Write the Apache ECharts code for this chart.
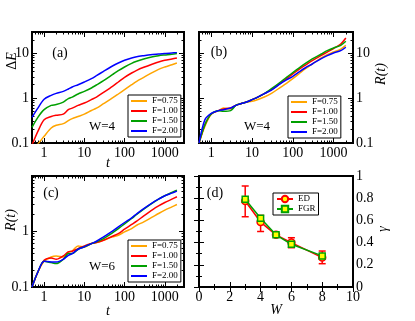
<!DOCTYPE html>
<html>
<head>
<meta charset="utf-8">
<script src="https://cdn.jsdelivr.net/npm/echarts@6/dist/echarts.min.js"></script>
<style>
html,body{margin:0;padding:0;background:#fff;}
#main{width:415px;height:321px;}
</style>
</head>
<body>
<div id="main"></div>
<script>
// time grid shared by panels (a)-(c)
var tGrid = [0.5,0.7,1,1.5,2,3,4,5,7,10,15,20,30,50,70,100,150,200,300,500,700,1000,1500,2000];

// (a) Delta E, W=4
var aF075 = [0.07,0.095,0.141,0.216,0.248,0.27,0.316,0.35,0.39,0.44,0.53,0.60,0.755,1.01,1.24,1.55,2.0,2.38,2.92,3.78,4.41,4.97,5.6,6.1];
var aF100 = [0.09,0.182,0.33,0.39,0.415,0.44,0.555,0.60,0.69,0.78,0.93,1.06,1.35,1.84,2.30,2.92,3.65,4.19,4.89,5.8,6.43,7.0,7.5,7.9];
var aF150 = [0.224,0.374,0.555,0.69,0.72,0.82,0.98,1.06,1.24,1.42,1.69,1.97,2.46,3.35,4.12,4.97,6.0,6.65,7.5,8.45,8.9,9.2,9.5,9.9];
var aF200 = [0.374,0.60,0.95,1.16,1.28,1.42,1.60,1.78,2.0,2.30,2.73,3.18,3.98,5.23,6.1,7.0,7.9,8.45,8.9,9.4,9.7,9.9,10.2,10.6];

// (b) R(t), W=4
var bF075 = [0.1,0.236,0.444,0.527,0.604,0.574,0.693,0.742,0.809,0.851,0.96,1.06,1.28,1.75,2.15,2.73,3.65,4.49,5.8,7.9,9.37,10.7,12.5,15.1];
var bF100 = [0.1,0.257,0.444,0.527,0.574,0.604,0.693,0.742,0.809,0.927,1.10,1.26,1.55,2.18,2.73,3.47,4.56,5.42,6.89,9.06,10.7,12.8,16.2,22.1];
var bF150 = [0.1,0.257,0.444,0.527,0.509,0.527,0.693,0.742,0.809,0.927,1.10,1.26,1.63,2.30,2.92,3.72,4.89,5.9,7.5,9.7,11.5,13.2,15.1,18.6];
var bF200 = [0.1,0.332,0.46,0.527,0.555,0.604,0.693,0.742,0.809,0.927,1.10,1.26,1.52,2.11,2.55,3.08,3.98,4.72,5.8,7.63,8.9,10.2,11.5,13.7];

// (c) R(t), W=6
var cF075 = [0.1,0.185,0.287,0.343,0.358,0.343,0.422,0.44,0.54,0.518,0.594,0.619,0.682,0.782,0.837,0.96,1.10,1.26,1.45,1.78,2.04,2.34,2.68,2.95];
var cF100 = [0.1,0.185,0.30,0.33,0.312,0.358,0.422,0.434,0.484,0.54,0.594,0.619,0.682,0.803,0.896,1.07,1.30,1.49,1.85,2.40,2.79,3.2,3.67,4.05];
var cF150 = [0.1,0.185,0.287,0.272,0.261,0.312,0.394,0.394,0.471,0.518,0.594,0.637,0.73,0.921,1.10,1.33,1.66,1.96,2.44,3.16,3.67,4.22,4.84,5.32];
var cF200 = [0.1,0.185,0.287,0.279,0.279,0.312,0.367,0.394,0.471,0.518,0.594,0.654,0.782,0.986,1.18,1.41,1.71,2.01,2.50,3.2,3.67,4.22,4.71,5.1];

// (d) gamma vs W
var wVals = [3,4,5,6,8];
var gED = [0.775,0.585,0.47,0.40,0.265];
var gEDlo = [0.633,0.50,0.46,0.354,0.21];
var gEDhi = [0.91,0.645,0.48,0.444,0.324];
var gFGR = [0.79,0.62,0.47,0.385,0.28];

var names = ['F=0.75','F=1.00','F=1.50','F=2.00'];
var colors = ['#ffa500','#ff0000','#00a000','#0000ff'];
var FONT = "'Liberation Serif','DejaVu Serif',serif";

function zip(x, y){ return x.map(function(v,i){ return [v, y[i]]; }); }
function logTicks(min,max){
  var out=[];
  for(var e=-2;e<=4;e++) for(var k=1;k<=9;k++){
    var v=parseFloat((k*Math.pow(10,e)).toPrecision(3));
    if(v>=min*0.999 && v<=max*1.001) out.push(v);
  }
  return out;
}
function decades(min,max){
  return logTicks(min,max).filter(function(v){ var l=Math.log10(v); return Math.abs(l-Math.round(l))<1e-9; });
}
function fmt(v){ return String(parseFloat(Number(v).toPrecision(3))); }

function logAxis(grid,pos,min,max,major,labels){
  return {
    type:'log', logBase:10, gridIndex:grid, position:pos, min:min, max:max,
    axisLine:{show:false}, splitLine:{show:false},
    axisTick:{show:true, inside:true, length: major?5:2.5,
      customValues: major?decades(min,max):logTicks(min,max),
      lineStyle:{color:'#000', width:1}},
    axisLabel: labels ? {show:true, customValues:decades(min,max), margin:3, color:'#000',
      fontFamily:FONT, fontSize:14, formatter:fmt} : {show:false}
  };
}

var xAxes=[], yAxes=[];
function logPanel(grid, xr, yr, ySide){
  ['bottom','top'].forEach(function(p){
    xAxes.push(logAxis(grid,p,xr[0],xr[1],true,p==='bottom'));
    xAxes.push(logAxis(grid,p,xr[0],xr[1],false,false));
  });
  ['left','right'].forEach(function(p){
    yAxes.push(logAxis(grid,p,yr[0],yr[1],true,p===ySide));
    yAxes.push(logAxis(grid,p,yr[0],yr[1],false,false));
  });
}
logPanel(0,[0.5,3000],[0.1,30],'left');   // axes 0..3
logPanel(1,[0.5,3000],[0.1,30],'right');  // axes 4..7
logPanel(2,[0.5,3000],[0.1,9.5],'left');  // axes 8..11

function linAxis(grid,pos,min,max,interval,labels){
  return {
    type:'value', gridIndex:grid, position:pos, min:min, max:max, interval:interval,
    axisLine:{show:false}, splitLine:{show:false}, minorSplitLine:{show:false},
    axisTick:{show:true, inside:true, length:5, lineStyle:{color:'#000', width:1}},
    minorTick:{show:true, splitNumber:2, length:3, lineStyle:{color:'#000', width:1}},
    axisLabel: labels ? {show:true, margin:3, color:'#000', fontFamily:FONT, fontSize:14} : {show:false}
  };
}
xAxes.push(linAxis(3,'bottom',0,10,2,true));   // 12
xAxes.push(linAxis(3,'top',0,10,2,false));     // 13
yAxes.push(linAxis(3,'right',0,1,0.2,true));   // 12
yAxes.push(linAxis(3,'left',0,1,0.2,false));   // 13

function gridBox(l,t,w,h){
  return {left:l, top:t, width:w, height:h, show:true, borderColor:'#000', borderWidth:2,
    backgroundColor:'rgba(0,0,0,0)', outerBoundsMode:'none'};
}

var series=[];
function curves(sets, xi){
  sets.forEach(function(d,i){
    series.push({type:'line', name:names[i], xAxisIndex:xi, yAxisIndex:xi,
      data:zip(tGrid,d), symbol:'none', smooth:0.3, clip:true,
      lineStyle:{color:colors[i], width:1.5}, itemStyle:{color:colors[i]}, z:2});
  });
}
curves([aF075,aF100,aF150,aF200],0);
curves([bF075,bF100,bF150,bF200],4);
curves([cF075,cF100,cF150,cF200],8);

series.push({
  type:'custom', name:'ED err', xAxisIndex:12, yAxisIndex:12, z:2,
  data: wVals.map(function(w,i){ return [w, gEDlo[i], gEDhi[i]]; }),
  renderItem:function(params, api){
    var a=api.coord([api.value(0), api.value(1)]);
    var b=api.coord([api.value(0), api.value(2)]);
    var st={stroke:'#ff0000', lineWidth:1.5};
    var c=3.5;
    return {type:'group', children:[
      {type:'line', shape:{x1:a[0],y1:a[1],x2:b[0],y2:b[1]}, style:st},
      {type:'line', shape:{x1:a[0]-c,y1:a[1],x2:a[0]+c,y2:a[1]}, style:st},
      {type:'line', shape:{x1:b[0]-c,y1:b[1],x2:b[0]+c,y2:b[1]}, style:st}
    ]};
  }
});
series.push({type:'line', name:'ED', xAxisIndex:12, yAxisIndex:12, data:zip(wVals,gED),
  symbol:'circle', symbolSize:7, lineStyle:{color:'#ff0000', width:1.5},
  itemStyle:{color:'#ffff00', borderColor:'#ff0000', borderWidth:1.5}, z:3});
series.push({type:'line', name:'FGR', xAxisIndex:12, yAxisIndex:12, data:zip(wVals,gFGR),
  symbol:'rect', symbolSize:6, lineStyle:{color:'#00a000', width:1.5},
  itemStyle:{color:'#ffff00', borderColor:'#00a000', borderWidth:1.5}, z:4});

function legendBox(l,t,data,lineIcon){
  var o = {left:l, top:t, orient:'vertical', data:data, backgroundColor:'#fff',
    borderColor:'#000', borderWidth:1, borderRadius:0, padding:[1,3,1,3],
    itemWidth:16, itemHeight:8, itemGap:0, selectedMode:false,
    textStyle:{fontFamily:FONT, fontSize:9, lineHeight:10, color:'#000'}};
  if(lineIcon){ o.icon='rect'; o.itemHeight=2; }
  return o;
}

function txt(x,y,s,size){
  return {type:'text', x:x, y:y, z:10,
    style:{text:s, fill:'#000', font:(size||14)+'px '+FONT, textAlign:'center', textVerticalAlign:'middle'}};
}
var italic = function(size){ return 'italic '+size+'px '+FONT; };

var option = {
  animation:false,
  backgroundColor:'#fff',
  grid:[gridBox(32,32,152,111), gridBox(199,32,154,111), gridBox(32,176,152,111), gridBox(199,176,154,111)],
  xAxis:xAxes,
  yAxis:yAxes,
  legend:[legendBox(128,95,names,true), legendBox(288,96,names,true), legendBox(128,240,names,true), legendBox(273,193,['ED','FGR'],false)],
  series:series,
  graphic:[
    txt(60,53,'(a)',14), txt(102,127,'W=4',13),
    txt(219,52,'(b)',14), txt(257,127,'W=4',13),
    txt(51,193,'(c)',14), txt(102,267,'W=6',13),
    txt(215,193,'(d)',14),
    {type:'text', x:12, y:61, rotation:Math.PI/2, z:10,
      style:{text:'{n|Δ}{i|E}', textAlign:'center', textVerticalAlign:'middle',
        rich:{n:{font:'14px '+FONT, fill:'#000'}, i:{font:italic(14), fill:'#000'}}}},
    {type:'text', x:381, y:74, rotation:Math.PI/2, z:10,
      style:{text:'R(t)', fill:'#000', font:italic(14), textAlign:'center', textVerticalAlign:'middle'}},
    {type:'text', x:11, y:220, rotation:Math.PI/2, z:10,
      style:{text:'R(t)', fill:'#000', font:italic(14), textAlign:'center', textVerticalAlign:'middle'}},
    {type:'text', x:383, y:229, rotation:Math.PI/2, z:10,
      style:{text:'γ', fill:'#000', font:italic(14), textAlign:'center', textVerticalAlign:'middle'}},
    {type:'text', x:108, y:163, z:10,
      style:{text:'t', fill:'#000', font:italic(14), textAlign:'center', textVerticalAlign:'middle'}},
    {type:'text', x:108, y:311, z:10,
      style:{text:'t', fill:'#000', font:italic(14), textAlign:'center', textVerticalAlign:'middle'}},
    {type:'text', x:276, y:310, z:10,
      style:{text:'W', fill:'#000', font:italic(14), textAlign:'center', textVerticalAlign:'middle'}}
  ]
};

var chart = echarts.init(document.getElementById('main'), null, {renderer:'canvas'});
chart.setOption(option);
</script>
</body>
</html>
